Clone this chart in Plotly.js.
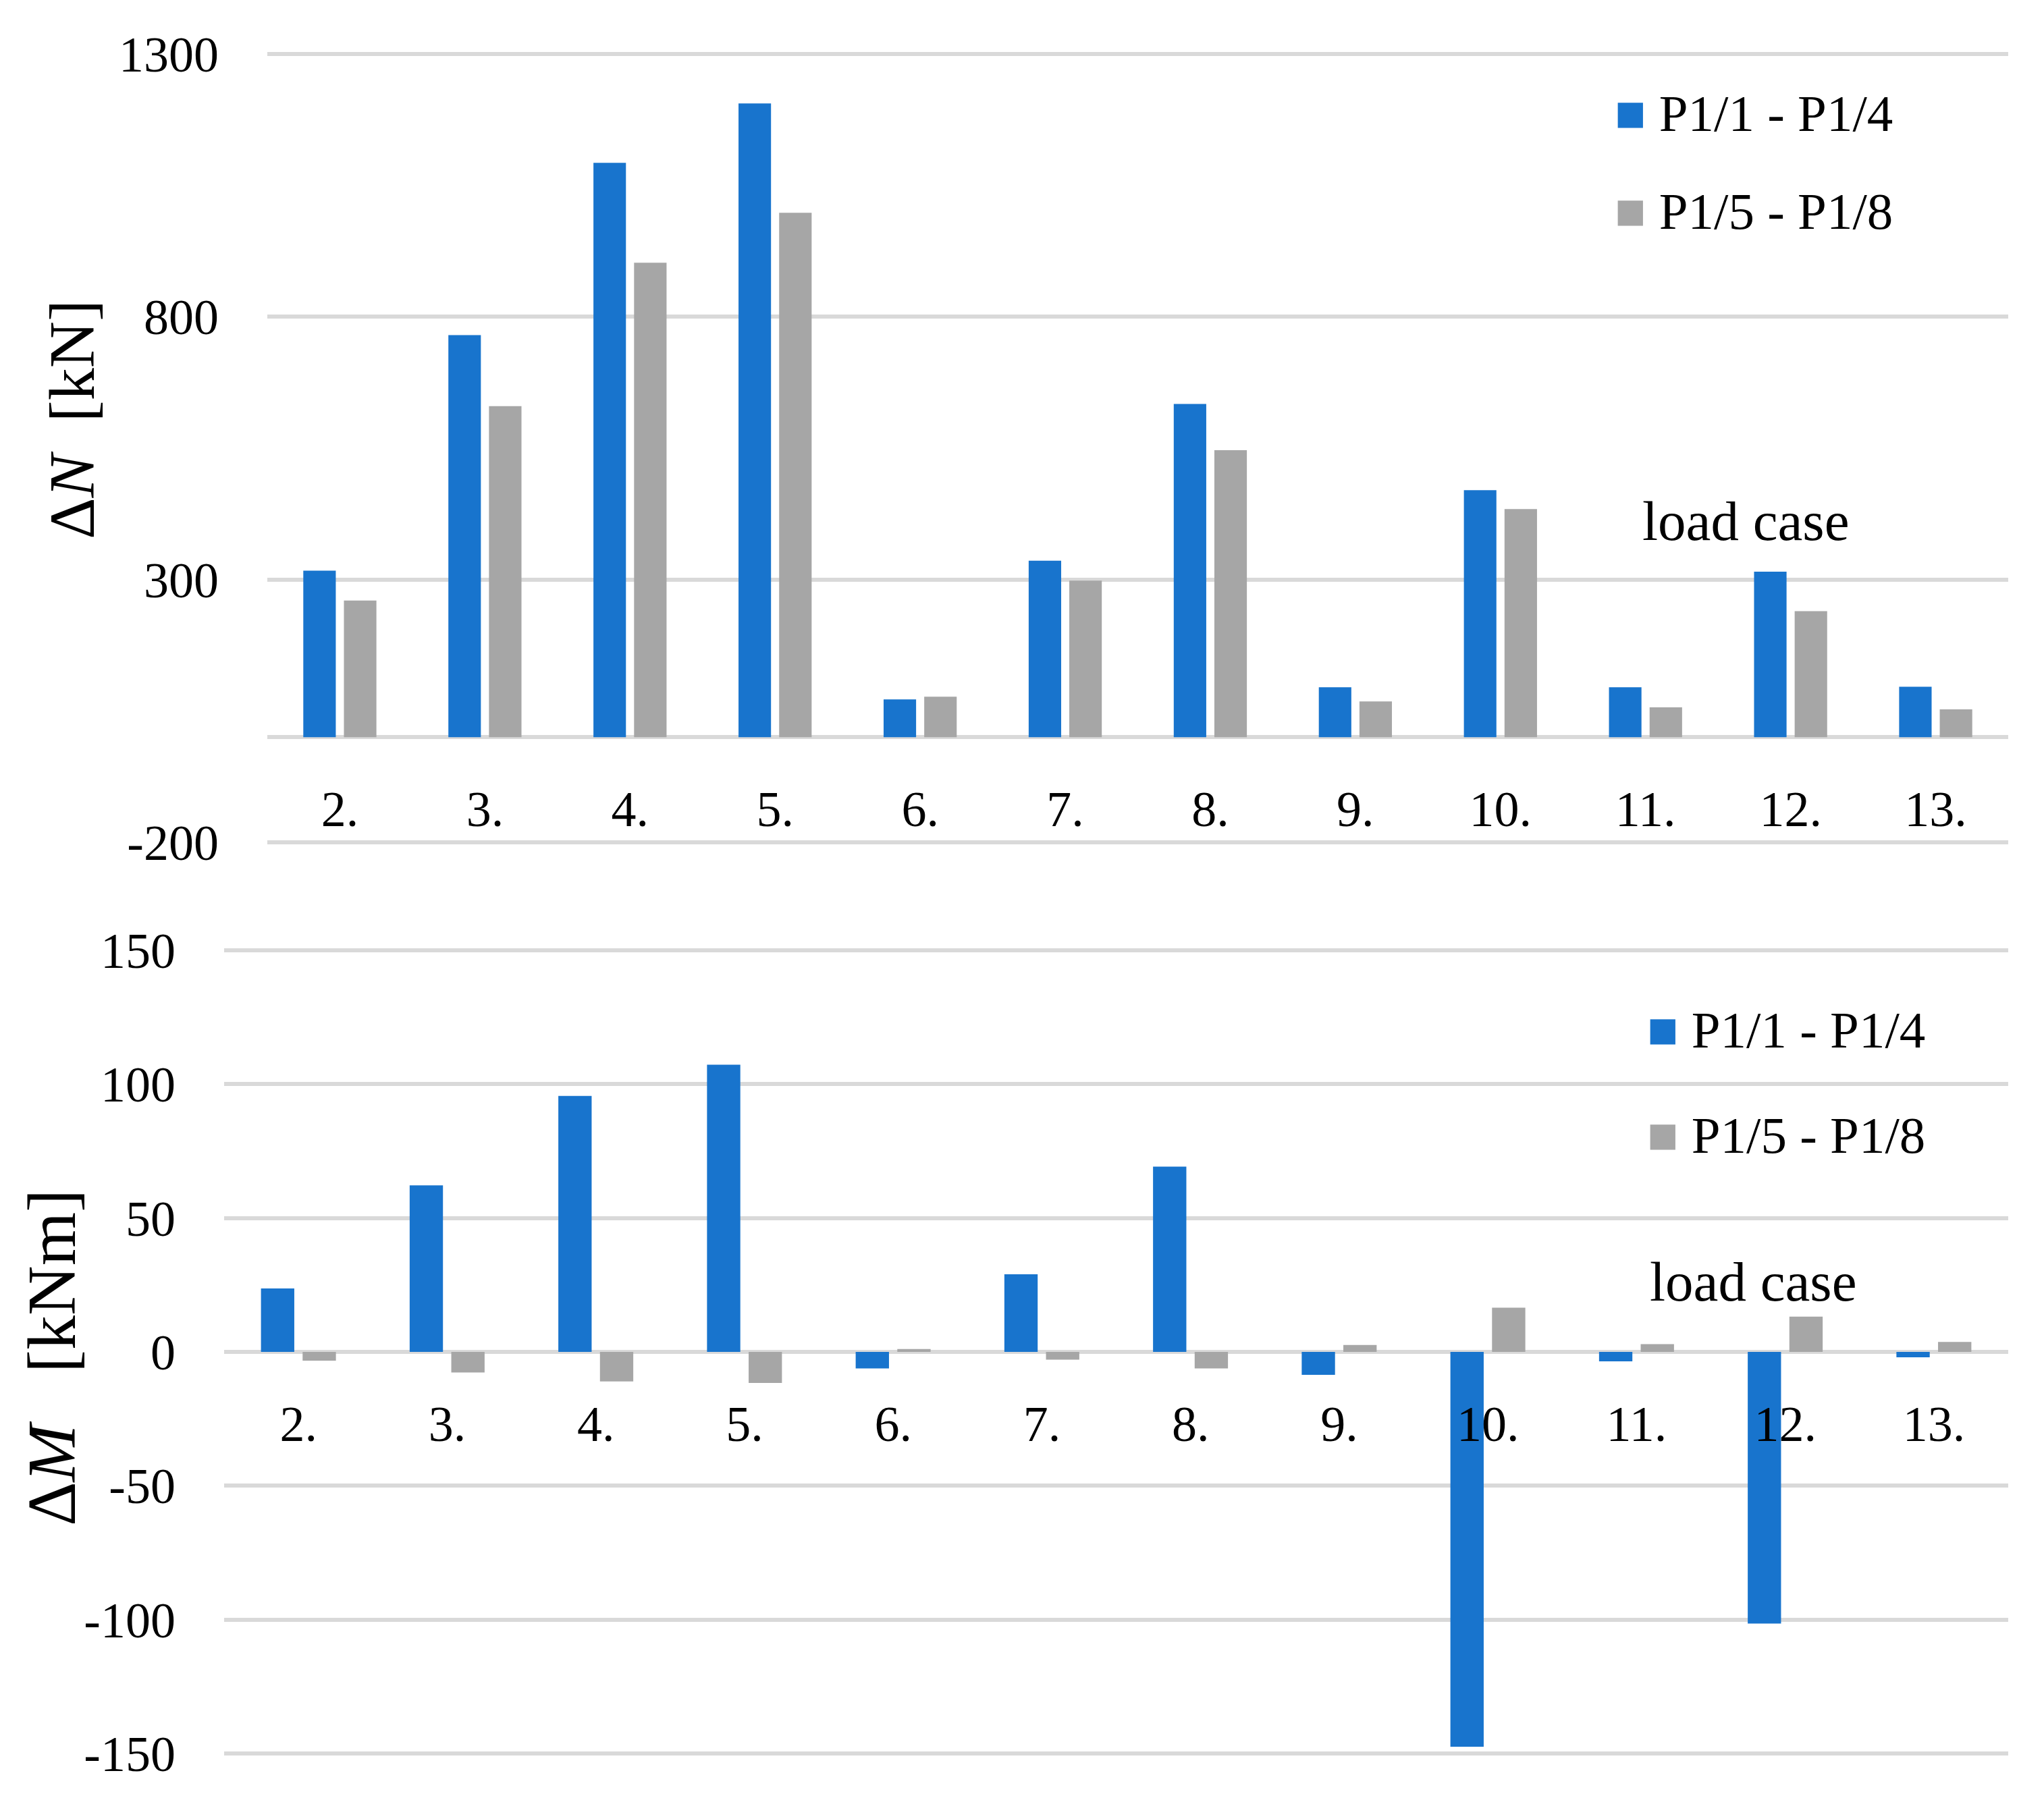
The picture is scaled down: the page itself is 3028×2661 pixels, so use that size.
<!DOCTYPE html>
<html>
<head>
<meta charset="utf-8">
<script src="https://cdn.plot.ly/plotly-3.0.1.min.js"></script>
<style>html,body{margin:0;padding:0;background:#fff;}</style>
</head>
<body>
<div id="chart" style="width:3028px;height:2661px;"></div>
<script>
const categories = ['2.', '3.', '4.', '5.', '6.', '7.', '8.', '9.', '10.', '11.', '12.', '13.'];
const seriesNames = ['P1/1 - P1/4', 'P1/5 - P1/8'];
const dN_P1_4 = [317, 765, 1093, 1206, 72, 336, 634, 95, 470, 95, 315, 96];
const dN_P5_8 = [260, 630, 903, 998, 77, 298, 546, 68, 434, 57, 240, 53];
const dM_P1_4 = [23.7, 62.2, 95.6, 107.3, -6.2, 29, 69.2, -8.6, -147.5, -3.5, -101.5, -2];
const dM_P5_8 = [-3.3, -7.7, -11, -11.6, 1.1, -2.9, -6.2, 2.6, 16.5, 2.9, 13.2, 3.7];
const nTicks = [-200, 300, 800, 1300];
const mTicks = [-150, -100, -50, 0, 50, 100, 150];

const BLUE = '#1874CD', GRAY = '#A6A6A6', GRID = '#D9D9D9';
const FONT = 'Liberation Serif';
const W = 3028, H = 2661;

// plot areas (pixels of the nominal range ends)
const pTop = {l: 396, r: 2975, t: 80, b: 1248, range: [-200, 1300]};
const pBot = {l: 332, r: 2975, t: 1408, b: 2598, range: [-150, 150]};
const PADPX = 5; // small extension so gridlines at the range ends are drawn
function frame(p) {
  const upp = (p.range[1] - p.range[0]) / (p.b - p.t);
  const range = [p.range[0] - PADPX * upp, p.range[1] + PADPX * upp];
  const t = p.t - PADPX, b = p.b + PADPX;
  const dx = [p.l / W, p.r / W], dy = [1 - b / H, 1 - t / H];
  const zero = dy[0] + (0 - range[0]) / (range[1] - range[0]) * (dy[1] - dy[0]);
  return {x: dx, y: dy, range: range, zero: zero};
}
const fTop = frame(pTop), fBot = frame(pBot);

const traces = [
  {type: 'bar', x: categories, y: dN_P1_4, name: seriesNames[0], marker: {color: BLUE}, xaxis: 'x', yaxis: 'y', showlegend: false},
  {type: 'bar', x: categories, y: dN_P5_8, name: seriesNames[1], marker: {color: GRAY}, xaxis: 'x', yaxis: 'y', showlegend: false},
  {type: 'bar', x: categories, y: dM_P1_4, name: seriesNames[0], marker: {color: BLUE}, xaxis: 'x2', yaxis: 'y2', showlegend: false},
  {type: 'bar', x: categories, y: dM_P5_8, name: seriesNames[1], marker: {color: GRAY}, xaxis: 'x2', yaxis: 'y2', showlegend: false}
];

const tickFont = {family: FONT, size: 74, color: '#000'};
const xCommon = {
  type: 'category', showgrid: false, zeroline: false, showline: false,
  ticks: 'outside', ticklen: 42, tickcolor: 'rgba(0,0,0,0)', tickfont: tickFont,
  anchor: 'free', fixedrange: true
};
const yCommon = {
  showgrid: true, gridcolor: GRID, gridwidth: 6,
  zeroline: true, zerolinecolor: GRID, zerolinewidth: 6,
  showline: false, ticks: '', ticklabelstandoff: 72,
  tickfont: tickFont, tickmode: 'array', fixedrange: true, anchor: 'free'
};

function legendText(color, name) {
  return '<span style="color:' + color + '">■</span> ' + name;
}

const layout = {
  width: W, height: H,
  margin: {l: 0, r: 0, t: 0, b: 0},
  paper_bgcolor: '#fff', plot_bgcolor: '#fff',
  barmode: 'group', bargap: 0.44, bargroupgap: 0.2,
  font: {family: FONT, color: '#000'},
  xaxis: Object.assign({}, xCommon, {domain: fTop.x, position: fTop.zero}),
  yaxis: Object.assign({}, yCommon, {domain: fTop.y, position: fTop.x[0], range: fTop.range, tickvals: nTicks, ticktext: nTicks.map(String)}),
  xaxis2: Object.assign({}, xCommon, {domain: fBot.x, position: fBot.zero}),
  yaxis2: Object.assign({}, yCommon, {domain: fBot.y, position: fBot.x[0], range: fBot.range, tickvals: mTicks, ticktext: mTicks.map(String)}),
  annotations: [
    {xref: 'paper', yref: 'paper', x: 106 / W, y: 1 - 622 / H, text: 'Δ<i>N</i>&nbsp; [kN]', textangle: -90,
     showarrow: false, xanchor: 'center', yanchor: 'middle', font: {family: FONT, size: 96}},
    {xref: 'paper', yref: 'paper', x: 77 / W, y: 1 - 2012 / H, text: 'Δ<i>M</i>&nbsp;&nbsp; [kNm]', textangle: -90,
     showarrow: false, xanchor: 'center', yanchor: 'middle', font: {family: FONT, size: 102}},
    {xref: 'paper', yref: 'paper', x: 2586 / W, y: 1 - 772 / H, text: 'load case', showarrow: false,
     xanchor: 'center', yanchor: 'middle', font: {family: FONT, size: 83}},
    {xref: 'paper', yref: 'paper', x: 2597 / W, y: 1 - 1899 / H, text: 'load case', showarrow: false,
     xanchor: 'center', yanchor: 'middle', font: {family: FONT, size: 83}},
    {xref: 'paper', yref: 'paper', x: 2390 / W, y: 1 - 168 / H, text: legendText(BLUE, seriesNames[0]), showarrow: false,
     xanchor: 'left', yanchor: 'middle', font: {family: FONT, size: 77}},
    {xref: 'paper', yref: 'paper', x: 2390 / W, y: 1 - 313 / H, text: legendText(GRAY, seriesNames[1]), showarrow: false,
     xanchor: 'left', yanchor: 'middle', font: {family: FONT, size: 77}},
    {xref: 'paper', yref: 'paper', x: 2438 / W, y: 1 - 1526 / H, text: legendText(BLUE, seriesNames[0]), showarrow: false,
     xanchor: 'left', yanchor: 'middle', font: {family: FONT, size: 77}},
    {xref: 'paper', yref: 'paper', x: 2438 / W, y: 1 - 1682 / H, text: legendText(GRAY, seriesNames[1]), showarrow: false,
     xanchor: 'left', yanchor: 'middle', font: {family: FONT, size: 77}}
  ]
};

Plotly.newPlot('chart', traces, layout, {displayModeBar: false, staticPlot: true});
</script>
</body>
</html>
